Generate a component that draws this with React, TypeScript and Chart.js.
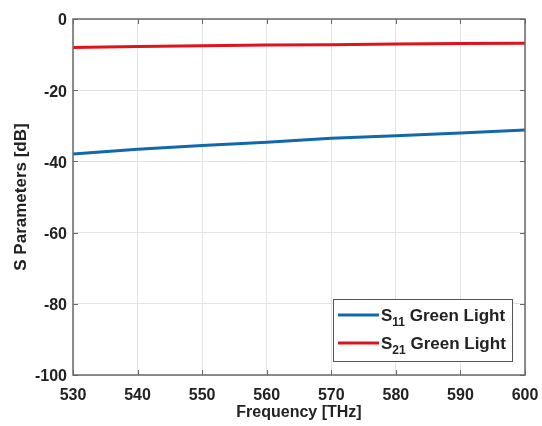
import React, { useEffect, useRef } from 'react';
import { Chart, registerables } from 'chart.js';

Chart.register(...registerables);

const frequencies = [530, 540, 550, 560, 570, 580, 590, 600];
const s11Values = [-37.9, -36.6, -35.5, -34.6, -33.5, -32.8, -32.0, -31.2];
const s21Values = [-8.0, -7.7, -7.5, -7.3, -7.2, -7.0, -6.9, -6.8];
const xTickValues = [530, 540, 550, 560, 570, 580, 590, 600];
const yTickValues = [-100, -80, -60, -40, -20, 0];
const seriesNames = [
  { main: 'S', sub: '11', rest: ' Green Light' },
  { main: 'S', sub: '21', rest: ' Green Light' },
];
const seriesColors = ['#1268ad', '#e0121b'];

const FONT = '"Liberation Sans", Arial, Helvetica, sans-serif';
const TEXT = '#222222';

const zeroPad = (scale: any) => {
  scale.paddingLeft = 0;
  scale.paddingRight = 0;
  scale.paddingTop = 0;
  scale.paddingBottom = 0;
};

const framePlugin = {
  id: 'frame',
  afterDatasetsDraw(chart: any) {
    const ctx = chart.ctx;
    const ca = chart.chartArea;
    const xs = chart.scales.x;
    const ys = chart.scales.y;
    ctx.save();
    ctx.strokeStyle = '#666666';
    ctx.lineWidth = 1;
    ctx.beginPath();
    const tl = 5;
    xTickValues.forEach((v) => {
      const px = Math.round(xs.getPixelForValue(v)) + 0.5;
      ctx.moveTo(px, ca.bottom);
      ctx.lineTo(px, ca.bottom - tl);
      ctx.moveTo(px, ca.top);
      ctx.lineTo(px, ca.top + tl);
    });
    yTickValues.forEach((v) => {
      const py = Math.round(ys.getPixelForValue(v)) + 0.5;
      ctx.moveTo(ca.left, py);
      ctx.lineTo(ca.left + tl, py);
      ctx.moveTo(ca.right, py);
      ctx.lineTo(ca.right - tl, py);
    });
    ctx.stroke();
    ctx.lineWidth = 1.5;
    ctx.strokeStyle = '#6a6a6a';
    ctx.strokeRect(ca.left, ca.top, ca.right - ca.left, ca.bottom - ca.top);
    ctx.restore();
  },
  afterDraw(chart: any) {
    const ctx = chart.ctx;
    const ca = chart.chartArea;
    const w = 179;
    const h = 62;
    const bx = ca.right - 13 - w;
    const by = ca.bottom - 14 - h;
    ctx.save();
    ctx.fillStyle = '#ffffff';
    ctx.fillRect(bx, by, w, h);
    ctx.strokeStyle = '#555555';
    ctx.lineWidth = 1;
    ctx.strokeRect(bx + 0.5, by + 0.5, w, h);
    seriesNames.forEach((s, i) => {
      const ly = by + 16 + i * 28;
      ctx.strokeStyle = seriesColors[i];
      ctx.lineWidth = 3;
      ctx.beginPath();
      ctx.moveTo(bx + 5, ly);
      ctx.lineTo(bx + 46, ly);
      ctx.stroke();
      ctx.fillStyle = TEXT;
      ctx.textBaseline = 'alphabetic';
      ctx.textAlign = 'left';
      let tx = bx + 48;
      ctx.font = `bold 17px ${FONT}`;
      ctx.fillText(s.main, tx, ly + 6);
      tx += ctx.measureText(s.main).width;
      ctx.font = `bold 12px ${FONT}`;
      ctx.fillText(s.sub, tx, ly + 11);
      tx += ctx.measureText(s.sub).width;
      ctx.font = `bold 17px ${FONT}`;
      ctx.fillText(s.rest, tx, ly + 6);
    });
    ctx.restore();
  },
};

export default function App() {
  const canvasRef = useRef<HTMLCanvasElement | null>(null);

  useEffect(() => {
    document.body.style.margin = '0';
    const canvas = canvasRef.current;
    if (!canvas) return;
    const chart = new Chart(canvas, {
      type: 'line',
      data: {
        datasets: [
          {
            label: 'S11 Green Light',
            data: frequencies.map((f, i) => ({ x: f, y: s11Values[i] })),
            borderColor: seriesColors[0],
            borderWidth: 3,
            pointRadius: 0,
            tension: 0,
            fill: false,
          },
          {
            label: 'S21 Green Light',
            data: frequencies.map((f, i) => ({ x: f, y: s21Values[i] })),
            borderColor: seriesColors[1],
            borderWidth: 3,
            pointRadius: 0,
            tension: 0,
            fill: false,
          },
        ],
      },
      options: {
        responsive: false,
        animation: false,
        devicePixelRatio: 1,
        layout: { padding: { left: 0, top: 19, right: 17, bottom: 0 } },
        plugins: {
          legend: { display: false },
          tooltip: { enabled: false },
        },
        scales: {
          x: {
            type: 'linear',
            min: 530,
            max: 600,
            afterBuildTicks: (scale: any) => {
              scale.ticks = xTickValues.map((v) => ({ value: v }));
            },
            afterFit: (scale: any) => {
              scale.height = 51;
              zeroPad(scale);
            },
            grid: { color: '#e3e3e3', lineWidth: 1, drawTicks: false },
            border: { display: false },
            ticks: {
              color: TEXT,
              padding: 11,
              maxRotation: 0,
              font: { family: FONT, size: 16, weight: 'bold' },
            },
            title: {
              display: true,
              text: 'Frequency [THz]',
              color: TEXT,
              padding: { top: 0, bottom: 4 },
              font: { family: FONT, size: 16, weight: 'bold' },
            },
          },
          y: {
            type: 'linear',
            min: -100,
            max: 0,
            afterBuildTicks: (scale: any) => {
              scale.ticks = yTickValues.map((v) => ({ value: v }));
            },
            afterFit: (scale: any) => {
              scale.width = 73;
              zeroPad(scale);
            },
            grid: { color: '#e3e3e3', lineWidth: 1, drawTicks: false },
            border: { display: false },
            ticks: {
              color: TEXT,
              padding: 6,
              labelOffset: 2,
              font: { family: FONT, size: 16, weight: 'bold' },
            },
            title: {
              display: true,
              text: 'S Parameters [dB]',
              color: TEXT,
              padding: { top: 11, bottom: 0 },
              font: { family: FONT, size: 17, weight: 'bold' },
            },
          },
        },
      },
      plugins: [framePlugin],
    } as any);
    return () => chart.destroy();
  }, []);

  return (
    <div style={{ width: 542, height: 426 }}>
      <canvas ref={canvasRef} width={542} height={426} />
    </div>
  );
}
